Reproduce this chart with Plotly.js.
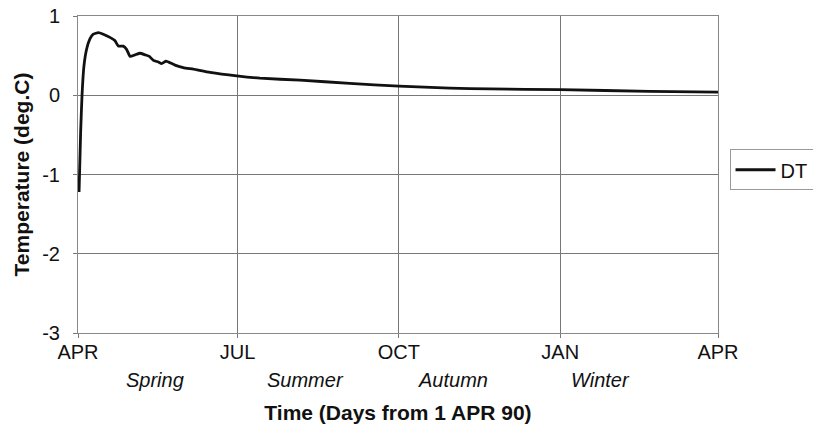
<!DOCTYPE html>
<html>
<head>
<meta charset="utf-8">
<script src="https://cdn.plot.ly/plotly-3.0.1.min.js"></script>
<style>html,body{margin:0;padding:0;background:#fff;}#chart{width:813px;height:429px;}</style>
</head>
<body>
<div id="chart"></div>
<script>
// Temperature difference DT over one year, days counted from 1 April 1990
const days = [0.6, 1.5, 2.3, 3.4, 4.9, 6.8, 8.7, 11.6, 14.4, 18.2, 21, 23, 25.8, 27.7, 29.7, 32.5, 35.4, 38.2, 40.7, 43, 45.8, 47.7, 50.2, 52.5, 55.3, 60, 65.8, 75.3, 90.5, 103.8, 126.6, 155, 183, 212, 235, 275, 326, 365];
const dt   = [-1.22, -0.47, 0.0, 0.37, 0.58, 0.71, 0.77, 0.79, 0.77, 0.73, 0.69, 0.62, 0.62, 0.58, 0.49, 0.51, 0.53, 0.51, 0.49, 0.44, 0.42, 0.40, 0.43, 0.41, 0.38, 0.35, 0.33, 0.29, 0.245, 0.215, 0.19, 0.15, 0.115, 0.09, 0.08, 0.07, 0.05, 0.04];

const monthTicks = [0, 91, 183, 275, 365];
const monthLabels = ['APR', 'JUL', 'OCT', 'JAN', 'APR'];

const seasons = ['Spring', 'Summer', 'Autumn', 'Winter'];
const seasonDays = [44, 129.5, 214, 298];

const yTicks = [-3, -2, -1, 0, 1];

const font = 'Liberation Sans, Arial, sans-serif';
const ink = '#111';

// season names sit in a row between the month labels and the axis title
const annotations = seasons.map((s, i) => ({
  text: '<i>' + s + '</i>',
  x: seasonDays[i], xref: 'x',
  y: -0.148, yref: 'paper', yanchor: 'middle', xanchor: 'center',
  showarrow: false,
  font: {family: font, size: 20, color: ink}
}));

Plotly.newPlot('chart', [{
  x: days, y: dt, type: 'scatter', mode: 'lines', name: 'DT',
  line: {color: ink, width: 2.8, shape: 'spline', smoothing: 0.4}
}], {
  width: 813, height: 429,
  margin: {l: 78, r: 95, t: 16, b: 96, autoexpand: false},
  paper_bgcolor: '#fff', plot_bgcolor: '#fff',
  font: {family: font, color: ink},
  showlegend: true,
  legend: {
    x: 1.018, xanchor: 'left', y: 0.515, yanchor: 'middle',
    bordercolor: '#999', borderwidth: 1,
    font: {family: font, size: 20, color: ink},
    itemwidth: 40, tracegroupgap: 0
  },
  xaxis: {
    range: [0, 365], tickvals: monthTicks, ticktext: monthLabels,
    showgrid: true, gridcolor: '#777', gridwidth: 1,
    zeroline: false, showline: true, linecolor: '#888', linewidth: 1, mirror: true,
    ticks: 'outside', ticklen: 4, tickcolor: '#777', ticklabelstandoff: -3,
    tickfont: {family: font, size: 20, color: ink},
    title: {text: '<b>Time (Days from 1 APR 90)</b>', font: {family: font, size: 21, color: ink}, standoff: 43}
  },
  yaxis: {
    range: [-3, 1], tickvals: yTicks, ticktext: yTicks.map(String),
    showgrid: true, gridcolor: '#777', gridwidth: 1,
    zeroline: false, showline: true, linecolor: '#888', linewidth: 1, mirror: true,
    ticks: 'outside', ticklen: 4, tickcolor: '#777', ticklabelstandoff: 9,
    tickfont: {family: font, size: 20, color: ink},
    title: {text: '<b>Temperature (deg.C)</b>', font: {family: font, size: 21, color: ink}, standoff: 6}
  },
  annotations: annotations
}, {displayModeBar: false, staticPlot: true});
</script>
</body>
</html>
